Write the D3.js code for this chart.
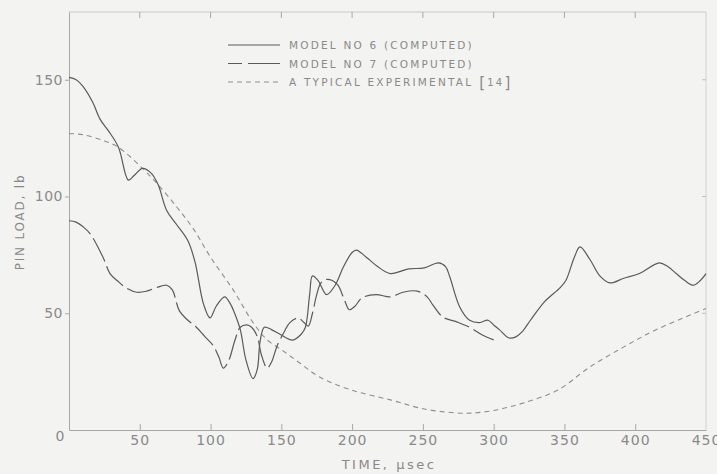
<!DOCTYPE html>
<html>
  <head>
    <meta charset="utf-8">
    <title>Pin load vs time</title>
    <script src="https://cdn.jsdelivr.net/npm/d3@7/dist/d3.min.js"></script>
    <style>
      body { margin: 0; background: #f3f3f1; }
      text { font-family: "DejaVu Sans", sans-serif; fill: #8a8a8a; }
    </style>
  </head>
  <body>
  <script>

    // Series names, as in the legend
    var seriesNames = ["MODEL NO 6 (COMPUTED)", "MODEL NO 7 (COMPUTED)", "A TYPICAL EXPERIMENTAL"];

    // Model 6 (solid) - time in microseconds, load in lb
    var model6Time = [0, 5, 10, 17, 22, 28, 35, 42, 46, 52, 58, 63, 69, 76, 84, 89, 95, 99.6, 104, 110,
                      114, 117, 121, 125, 130, 133, 135, 138, 143, 149, 158, 164, 167, 170, 172, 176, 182, 188, 194, 200,
                      203, 210, 218, 227, 240, 251, 261, 266, 269, 276, 283, 290, 296, 300, 304, 311, 316, 320, 326, 336,
                      347, 351, 357, 361, 368, 375, 382, 392, 403, 417, 423, 429, 435, 441, 446, 450];
    var model6Load = [151, 150, 147, 140, 133, 128, 121, 107, 109, 112, 110, 105, 94, 88, 81, 72, 54, 48, 53, 57,
                      54, 50, 43, 30, 22, 26, 38, 44, 43, 41, 38.5, 41, 44, 58, 66, 64, 58, 62, 70, 76,
                      77, 74, 70, 67, 69, 69.4, 71.6, 70, 65.6, 52.7, 47, 46, 47, 45, 43, 39.4, 40, 42, 47, 55,
                      61, 64, 74, 78.4, 73, 66, 63, 65, 67, 71.6, 70, 67, 64, 62, 64, 67];

    // Model 7 (long dashes)
    var model7Time = [0, 5, 10, 15, 24, 29, 34, 40, 48, 55, 62, 69, 73, 78, 84, 90, 96, 102, 106, 109,
                      113, 117, 121, 125.5, 129, 133, 136, 140, 143, 147, 152, 156, 162, 166, 169, 172, 175, 178, 182, 186,
                      190, 195, 198, 202, 207, 217, 227, 236, 246, 253, 257, 264, 274, 283, 292, 300];
    var model7Load = [89.6, 89, 87, 84, 74, 67, 64, 61, 59, 59.5, 61, 62, 60, 51, 47, 44, 40, 36, 31, 26.5,
                      30, 38, 44, 45, 44, 40, 32, 26.5, 29, 36, 42, 46, 48, 46, 44.5, 50, 58, 63, 64.5, 64,
                      62, 55, 51.5, 53, 56.6, 58, 57, 59, 59.5, 57, 53.6, 48.4, 46.3, 44, 40.7, 38.6];

    // Typical experimental (short dashes)
    var expTime = [0, 10, 24, 35, 52, 63, 76, 88, 100, 116, 130, 140, 151, 163, 177, 200,
                   227, 251, 274, 286, 302, 321, 345, 368, 392, 415, 450];
    var expLoad = [127, 126.4, 124, 121, 112, 105, 95.6, 86, 74, 60, 46, 38.6, 34, 28.7, 22.7, 17,
                   12.9, 9, 7.3, 7.3, 8.6, 11.6, 17, 27, 35.6, 43, 52];

    // Axis ticks
    var xTicks = [0, 50, 100, 150, 200, 250, 300, 350, 400, 450];
    var yTicks = [50, 100, 150];

    var width = 717, height = 474;
    var pLeft = 69, pRight = 706, pTop = 12, pBottom = 430;

    var svg = d3.select("body").append("svg")
                .attr("width", width)
                .attr("height", height);

    svg.append("rect").attr("width", width).attr("height", height).attr("fill", "#f3f3f1");

    var x = d3.scaleLinear().domain([0, 450]).range([pLeft, pRight]);
    var y = d3.scaleLinear().domain([0, 179]).range([pBottom, pTop]);

    // frame: top and right are fainter
    svg.append("line").attr("x1", pLeft).attr("x2", pRight).attr("y1", pTop).attr("y2", pTop)
       .attr("stroke", "#c8c8c6").attr("stroke-width", 1);
    svg.append("line").attr("x1", pRight).attr("x2", pRight).attr("y1", pTop).attr("y2", pBottom)
       .attr("stroke", "#d2d2d0").attr("stroke-width", 1);

    // bottom axis, ticks pointing inward
    var xAxis = svg.append("g")
       .attr("transform", "translate(0," + pBottom + ")")
       .call(d3.axisBottom(x).tickValues(xTicks).tickSizeInner(-6).tickSizeOuter(0).tickPadding(5));
    xAxis.select(".domain").attr("stroke", "#a8a8a6");
    xAxis.selectAll(".tick line").attr("stroke", "#a8a8a6");
    xAxis.selectAll(".tick line").filter(function (d) { return d === 0 || d === 450; }).remove();
    xAxis.selectAll("text").attr("font-size", 14).attr("fill", "#a4a4a2")
         .style("font-family", "'DejaVu Sans', sans-serif").attr("letter-spacing", 1);
    xAxis.selectAll(".tick text").filter(function (d) { return d === 0; }).attr("dx", -9).attr("dy", "0.4em");

    // top ticks
    svg.append("g").selectAll("line")
       .data(xTicks.slice(1, -1))
       .enter().append("line")
       .attr("x1", function (d) { return x(d); })
       .attr("x2", function (d) { return x(d); })
       .attr("y1", pTop).attr("y2", pTop + 6)
       .attr("stroke", "#a8a8a6");

    // left axis, ticks outward
    var yAxis = svg.append("g")
       .attr("transform", "translate(" + pLeft + ",0)")
       .call(d3.axisLeft(y).tickValues(yTicks).tickSizeInner(4).tickSizeOuter(0).tickPadding(2));
    yAxis.select(".domain").attr("stroke", "#a8a8a6");
    yAxis.selectAll(".tick line").attr("stroke", "#a8a8a6");
    yAxis.selectAll("text").attr("font-size", 14).attr("fill", "#a4a4a2")
         .style("font-family", "'DejaVu Sans', sans-serif").attr("letter-spacing", 0.5);

    // right ticks, inward
    svg.append("g").selectAll("line")
       .data(yTicks)
       .enter().append("line")
       .attr("x1", pRight).attr("x2", pRight - 4)
       .attr("y1", function (d) { return y(d); })
       .attr("y2", function (d) { return y(d); })
       .attr("stroke", "#c0c0be");

    // axis titles
    svg.append("text")
       .attr("transform", "translate(24,222) rotate(-90)")
       .attr("text-anchor", "middle")
       .attr("font-size", 12).attr("letter-spacing", 1.8)
       .text("PIN LOAD, lb");

    svg.append("text")
       .attr("x", 389).attr("y", 469)
       .attr("text-anchor", "middle")
       .attr("font-size", 13).attr("letter-spacing", 2.5)
       .text("TIME, \u03bcsec");

    // curves
    var line = d3.line()
                 .x(function (d) { return x(d[0]); })
                 .y(function (d) { return y(d[1]); })
                 .curve(d3.curveCatmullRom.alpha(0.5));

    function zip(a, b) { return a.map(function (v, i) { return [v, b[i]]; }); }

    var series = [
      { pts: zip(expTime, expLoad), dash: "5,4", color: "#8e8e8c", w: 1.1 },
      { pts: zip(model7Time, model7Load), dash: "26,5", color: "#5a5a58", w: 1.2 },
      { pts: zip(model6Time, model6Load), dash: null, color: "#5a5a58", w: 1.2 }
    ];

    svg.append("g").selectAll("path")
       .data(series)
       .enter().append("path")
       .attr("d", function (d) { return line(d.pts); })
       .attr("fill", "none")
       .attr("stroke", function (d) { return d.color; })
       .attr("stroke-width", function (d) { return d.w; })
       .attr("stroke-dasharray", function (d) { return d.dash; });

    // legend
    var legendStyles = [
      { dash: null, color: "#5a5a58" },
      { dash: "14,6,32", color: "#5a5a58" },
      { dash: "5,4", color: "#8e8e8c" }
    ];
    var legend = svg.append("g").selectAll("g")
       .data(seriesNames)
       .enter().append("g")
       .attr("transform", function (d, i) { return "translate(228," + (45 + i * 18.5) + ")"; });

    legend.append("line")
       .attr("x1", 0).attr("x2", 52).attr("y1", 0).attr("y2", 0)
       .attr("stroke", function (d, i) { return legendStyles[i].color; })
       .attr("stroke-width", 1)
       .attr("stroke-dasharray", function (d, i) { return legendStyles[i].dash; });

    var lt = legend.append("text")
       .attr("x", 61).attr("y", 4)
       .attr("font-size", 10.5).attr("letter-spacing", 2.2)
       .text(function (d) { return d; });

    lt.filter(function (d, i) { return i === 2; })
      .append("tspan").attr("font-size", 15).attr("dx", 6).attr("dy", 2).text("[")
      .select(function () { return this.parentNode; })
      .append("tspan").attr("font-size", 10).attr("dy", -2).text("14")
      .select(function () { return this.parentNode; })
      .append("tspan").attr("font-size", 15).attr("dy", 2).text("]");

  </script>
  </body>
</html>
